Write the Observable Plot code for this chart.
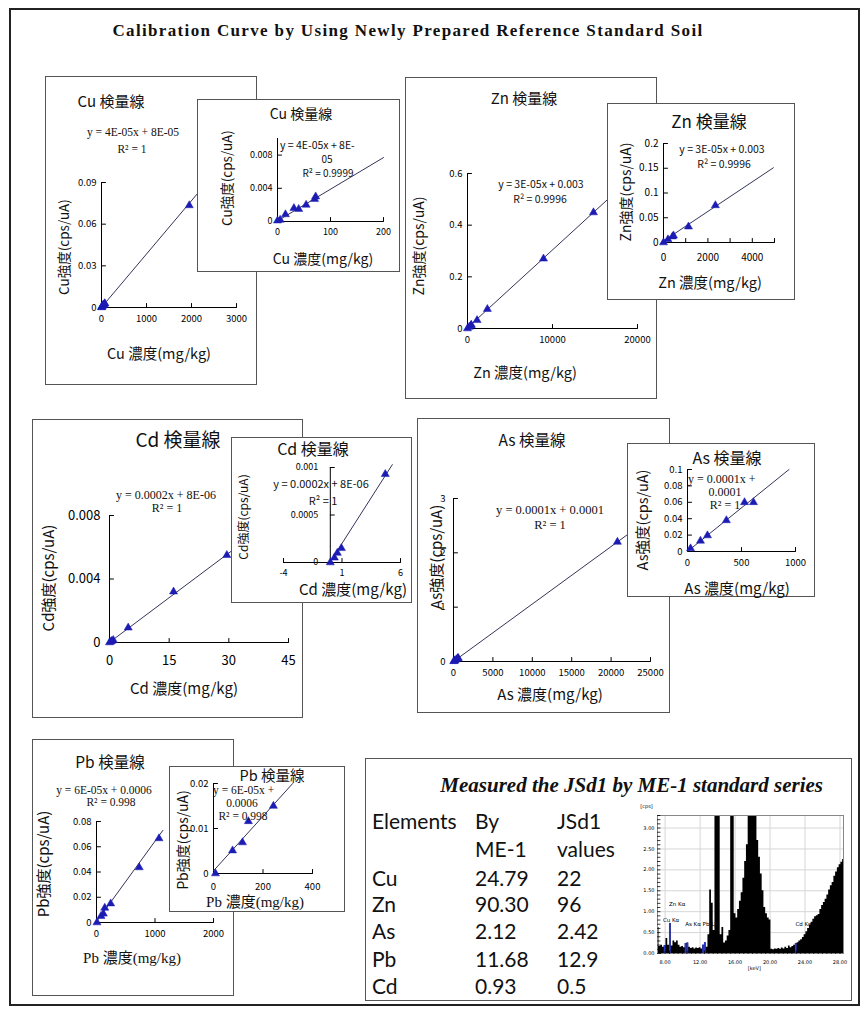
<!DOCTYPE html>
<html><head><meta charset="utf-8">
<script src="https://cdn.jsdelivr.net/npm/d3@7"></script>
<script src="https://cdn.jsdelivr.net/npm/@observablehq/plot@0.6"></script>
<style>
body{margin:0;background:#fff;}
#root{position:relative;width:868px;height:1014px;overflow:hidden;background:#fff;}
.abs{position:absolute;white-space:nowrap;line-height:1;}
.panel{position:absolute;background:#fff;border:1px solid #555;box-sizing:border-box;}
</style></head><body><div id="root"></div><script>
const BLUE = "#1c1cb4";
const LINE = "#34345a";
const SANS = "'Noto Sans CJK JP','DejaVu Sans',sans-serif";
const SERIF = "'Liberation Serif','Noto Sans CJK JP',serif";
const LATO = "Lato,'Open Sans',sans-serif";

// ---------- data ----------
const cuConc = [0, 5, 15, 31, 40, 54, 70, 72, 1950];
const cuInt  = [0.0001, 0.0002, 0.00085, 0.0016, 0.0015, 0.002, 0.0027, 0.003, 0.0735];
const cuFitX = [0, 2340], cuFitY = [0.00008, 0.09];
const cuInsetFitX = [0, 200], cuInsetFitY = [0.00008, 0.0077];

const znConc = [0, 200, 404, 450, 1124, 2337, 8940, 14820];
const znInt  = [0, 0.006, 0.012, 0.014, 0.032, 0.075, 0.27, 0.449];
const znFitX = [0, 17500], znFitY = [0.003, 0.53];
const znInsetFitX = [0, 4950], znInsetFitY = [0.003, 0.151];

const cdConc = [0, 0.35, 0.6, 0.95, 4.7, 16.1, 29.5];
const cdInt  = [0, 0.00005, 0.0001, 0.00015, 0.00093, 0.0032, 0.0055];
const cdFitX = [0, 33], cdFitY = [0.000008, 0.0062];
const cdInsetFitX = [0, 5.3], cdInsetFitY = [0.000008, 0.00103];

const asConc = [28, 120, 185, 360, 528, 611, 20800];
const asInt  = [0.0037, 0.013, 0.0195, 0.038, 0.06, 0.06, 2.2];
const asFitX = [0, 22500], asFitY = [0.0001, 2.38];
const asInsetFitX = [0, 940], asInsetFitY = [0.0001, 0.1];

const pbConc = [8, 77, 117, 141, 242, 730, 1068];
const pbInt  = [0, 0.0051, 0.0069, 0.0116, 0.015, 0.0436, 0.0666];
const pbFitX = [0, 1135], pbFitY = [0.0006, 0.073];
const pbInsetFitX = [0, 320], pbInsetFitY = [0.0006, 0.02];

// tick values
const cuTicksX = [0, 1000, 2000, 3000], cuTicksY = [0, 0.03, 0.06, 0.09];
const cuInsetTicksX = [0, 100, 200], cuInsetTicksY = [0, 0.004, 0.008];
const znTicksX = [0, 10000, 20000], znTicksY = [0, 0.2, 0.4, 0.6];
const znInsetTicksX = [0, 1000, 2000, 3000, 4000, 5000], znInsetLabelsX = [0, 2000, 4000], znInsetTicksY = [0, 0.05, 0.1, 0.15, 0.2];
const cdTicksX = [0, 15, 30, 45], cdTicksY = [0, 0.004, 0.008];
const cdInsetTicksX = [-4, 1, 6], cdInsetTicksY = [0, 0.0005, 0.001];
const asTicksX = [0, 5000, 10000, 15000, 20000, 25000], asTicksY = [0, 1, 2, 3];
const asInsetTicksX = [0, 500, 1000], asInsetTicksY = [0, 0.02, 0.04, 0.06, 0.08, 0.1];
const pbTicksX = [0, 1000, 2000], pbTicksY = [0, 0.02, 0.04, 0.06, 0.08];
const pbInsetTicksX = [0, 200, 400], pbInsetTicksY = [0, 0.01, 0.02];

// table
const tableHeader1 = ["Elements", "By", "JSd1"];
const tableHeader2 = ["", "ME-1", "values"];
const tableElements = ["Cu", "Zn", "As", "Pb", "Cd"];
const byME1 = ["24.79", "90.30", "2.12", "11.68", "0.93"];
const jsd1Values = ["22", "96", "2.42", "12.9", "0.5"];

// spectrum (counts per 0.2 keV starting at 7.2 keV)
const specStart = 7.2, specStep = 0.2;
const specCounts = [
 0.62,0.17,0.20,0.15,0.19,0.36,0.20,0.72,0.18,0.30,
 0.26,0.30,0.20,0.15,0.17,0.14,0.24,0.25,0.15,0.12,
 0.14,0.11,0.13,0.12,0.14,0.11,0.20,0.26,0.15,0.45,
 1.52,1.20,0.55,3.3,3.3,3.3,0.45,0.62,0.25,0.30,
 0.42,0.55,3.3,3.3,0.95,0.85,1.05,1.25,1.45,1.80,
 2.20,2.60,3.3,3.3,3.3,3.3,3.3,2.70,2.30,1.90,
 1.50,1.10,0.95,0.85,0.80,0.10,0.09,0.11,0.10,0.12,
 0.10,0.13,0.11,0.15,0.12,0.18,0.14,0.17,0.20,0.24,
 0.26,0.30,0.33,0.38,0.45,0.52,0.60,0.68,0.75,0.82,
 0.88,0.90,0.93,1.05,1.15,1.22,1.30,1.40,1.52,1.62,
 1.70,1.85,1.95,2.05,2.12,2.18,2.25];
const specBlueEnergies = [8.0, 8.6, 10.4, 10.6, 12.4, 12.6, 23.0];
const specTicksX = [8, 12, 16, 20, 24, 28];
const specTicksY = [0, 0.5, 1, 1.5, 2, 2.5, 3];
const specLabels = [
  {e: 8.45, c: 1.17, t: "Zn Kα"},
  {e: 7.75, c: 0.80, t: "Cu Kα"},
  {e: 10.3, c: 0.71, t: "As Kα Pb Lβ"},
  {e: 22.9, c: 0.70, t: "Cd Kα"}
];

// ---------- helpers ----------
const root = document.getElementById("root");
const tickUp = {draw(ctx, l) { ctx.moveTo(0, 0); ctx.lineTo(0, -l); }};
const tickRight = {draw(ctx, l) { ctx.moveTo(0, 0); ctx.lineTo(l, 0); }};
const zipPts = (xs, ys) => xs.map((x, i) => ({x, y: ys[i]}));
const fmt = d => String(d);

function label(parent, ox, oy, t) {
  const d = document.createElement("div");
  d.className = "abs";
  d.textContent = t.t;
  const tx = t.a === "start" ? "0" : t.a === "end" ? "-100%" : "-50%";
  Object.assign(d.style, {
    left: (t.x - ox) + "px", top: (t.y - oy) + "px",
    fontFamily: t.f || SANS, fontSize: t.s + "px",
    fontWeight: t.w || "normal", fontStyle: t.i ? "italic" : "normal",
    transform: `translate(${tx},-50%)` + (t.r ? ` rotate(${t.r}deg)` : ""),
    letterSpacing: t.ls ? t.ls + "px" : "normal", color: "#111"
  });
  parent.appendChild(d);
}

function panel(p) {
  const [x0, y0, x1, y1] = p.box;
  const div = document.createElement("div");
  div.className = "panel";
  Object.assign(div.style, {left: x0 + "px", top: y0 + "px", width: (x1 - x0) + "px", height: (y1 - y0) + "px"});
  root.appendChild(div);
  const ox = x0 + 1, oy = y0 + 1, W = x1 - x0 - 2, H = y1 - y0 - 2;
  if (p.plot) {
    const q = p.plot;
    const xAt = q.xAxisAt ?? q.xDomain[0];
    const yAt = q.yAxisAt ?? q.yDomain[0];
    const inDom = (v, d) => v >= Math.min(...d) && v <= Math.max(...d);
    const pts = zipPts(q.conc, q.int).filter(d => inDom(d.x, q.xDomain) && inDom(d.y, q.yDomain));
    const fit = zipPts(q.fitX, q.fitY);
    const chart = Plot.plot({
      width: W, height: H,
      marginLeft: q.fx[0] - ox, marginRight: ox + W - q.fx[1],
      marginTop: q.fy[1] - oy, marginBottom: oy + H - q.fy[0],
      x: {domain: q.xDomain, axis: null}, y: {domain: q.yDomain, axis: null},
      style: {fontFamily: SANS, fontSize: q.tickFont + "px", color: "#000", background: "transparent", overflow: "visible"},
      marks: [
        Plot.ruleX([xAt], {x: d => d, y1: () => q.yDomain[0], y2: () => q.yDomain[1], stroke: "#000"}),
        Plot.ruleY([yAt], {y: d => d, x1: () => q.xDomain[0], x2: () => q.xDomain[1], stroke: "#000"}),
        Plot.vector(q.yTicks, {x: () => xAt, y: d => d, length: 4, shape: tickRight, anchor: "start", stroke: "#000", strokeWidth: 1}),
        Plot.vector(q.xTicks, {x: d => d, y: () => yAt, length: 4, shape: tickUp, anchor: "start", stroke: "#000", strokeWidth: 1}),
        Plot.text(q.yLabels || q.yTicks, {x: () => xAt, y: d => d, text: fmt, textAnchor: "end", dx: q.yDx ?? -5, fill: "#000"}),
        Plot.text(q.xLabels || q.xTicks, {x: d => d, y: () => yAt, text: fmt, dy: q.xDy ?? 11, fill: "#000"}),
        Plot.line(fit, {x: "x", y: "y", stroke: LINE, strokeWidth: 1}),
        Plot.dot(pts, {x: "x", y: "y", symbol: "triangle", fill: BLUE, stroke: BLUE, strokeWidth: 0.5, r: 3})
      ]
    });
    chart.style.position = "absolute"; chart.style.left = "0px"; chart.style.top = "0px";
    div.appendChild(chart);
  }
  if (p.extra) p.extra(div, ox, oy);
  (p.texts || []).forEach(t => label(div, ox, oy, t));
  return div;
}

// ---------- outer frame + title ----------
const frame = document.createElement("div");
Object.assign(frame.style, {position: "absolute", left: "9px", top: "8px", width: "851px", height: "998px", border: "2px solid #222", boxSizing: "border-box"});
root.appendChild(frame);
label(root, 0, 0, {x: 408, y: 30, t: "Calibration Curve by Using Newly Prepared Reference Standard Soil", f: SERIF, s: 17, w: "bold", ls: 1.35});

const R = -90;
// ---------- Cu ----------
panel({box: [45, 76, 257, 385],
  plot: {conc: cuConc, int: cuInt, fitX: cuFitX, fitY: cuFitY, xDomain: [0, 3000], yDomain: [0, 0.09],
    fx: [101, 236], fy: [307, 182], xTicks: cuTicksX, yTicks: cuTicksY, tickFont: 9.5},
  texts: [
    {x: 111, y: 100, t: "Cu 検量線", s: 15},
    {x: 133, y: 133, t: "y = 4E-05x  + 8E-05", f: SERIF, s: 11.5},
    {x: 132, y: 150, t: "R² = 1", f: SERIF, s: 11.5},
    {x: 64, y: 247, t: "Cu強度(cps/uA)", s: 13.5, r: R},
    {x: 159, y: 353, t: "Cu 濃度(mg/kg)", s: 14.5}
  ]});
panel({box: [197, 99, 400, 272],
  plot: {conc: cuConc, int: cuInt, fitX: cuInsetFitX, fitY: cuInsetFitY, xDomain: [0, 200], yDomain: [0, 0.01],
    fx: [277, 383], fy: [221, 138], xTicks: cuInsetTicksX, yTicks: cuInsetTicksY, tickFont: 9},
  texts: [
    {x: 301, y: 113, t: "Cu 検量線", s: 14},
    {x: 280, y: 145, t: "y = 4E-05x + 8E-", s: 10.5, a: "start"},
    {x: 327, y: 159, t: "05", s: 10},
    {x: 328, y: 173, t: "R² = 0.9999", s: 10},
    {x: 227, y: 178, t: "Cu強度(cps/uA)", s: 13.5, r: R},
    {x: 323, y: 258, t: "Cu 濃度(mg/kg)", s: 14}
  ]});
// ---------- Zn ----------
panel({box: [405, 77, 657, 399],
  plot: {conc: znConc, int: znInt, fitX: znFitX, fitY: znFitY, xDomain: [0, 20000], yDomain: [0, 0.6],
    fx: [467, 637], fy: [328, 173], xTicks: znTicksX, yTicks: znTicksY, tickFont: 9.5},
  texts: [
    {x: 524, y: 97, t: "Zn 検量線", s: 15},
    {x: 541, y: 184, t: "y = 3E-05x + 0.003", s: 10.5},
    {x: 540, y: 199, t: "R² = 0.9996", s: 10.5},
    {x: 418, y: 246, t: "Zn強度(cps/uA)", s: 14, r: R},
    {x: 525, y: 372, t: "Zn 濃度(mg/kg)", s: 14.5}
  ]});
panel({box: [607, 103, 795, 300],
  plot: {conc: znConc, int: znInt, fitX: znInsetFitX, fitY: znInsetFitY, xDomain: [0, 5000], yDomain: [0, 0.2],
    fx: [663, 774], fy: [242, 143], xTicks: znInsetTicksX, xLabels: znInsetLabelsX, yTicks: znInsetTicksY, tickFont: 10, xDy: 15},
  texts: [
    {x: 709, y: 120, t: "Zn 検量線", s: 17},
    {x: 722, y: 149, t: "y = 3E-05x + 0.003", s: 10.5},
    {x: 724, y: 164, t: "R² = 0.9996", s: 10.5},
    {x: 625, y: 192, t: "Zn強度(cps/uA)", s: 14, r: R},
    {x: 710, y: 282, t: "Zn 濃度(mg/kg)", s: 14.5}
  ]});
// ---------- Cd ----------
panel({box: [32, 419, 303, 718],
  plot: {conc: cdConc, int: cdInt, fitX: cdFitX, fitY: cdFitY, xDomain: [0, 45], yDomain: [0, 0.008],
    fx: [109, 288], fy: [642, 515], xTicks: cdTicksX, yTicks: cdTicksY, tickFont: 13, yDx: -9, xDy: 18},
  texts: [
    {x: 178, y: 438, t: "Cd 検量線", s: 19},
    {x: 166, y: 495, t: "y = 0.0002x + 8E-06", f: SERIF, s: 12},
    {x: 167, y: 508, t: "R² = 1", f: SERIF, s: 12},
    {x: 47, y: 578, t: "Cd強度(cps/uA)", s: 15, r: R},
    {x: 184, y: 687, t: "Cd 濃度(mg/kg)", s: 15}
  ]});
panel({box: [231, 437, 412, 603],
  plot: {conc: cdConc, int: cdInt, fitX: cdInsetFitX, fitY: cdInsetFitY, xDomain: [-4, 6], yDomain: [0, 0.001],
    xAxisAt: 0, yAxisAt: 0,
    fx: [283, 400], fy: [562, 467], xTicks: cdInsetTicksX, yTicks: cdInsetTicksY, tickFont: 9, yDx: -12, xDy: 11},
  texts: [
    {x: 313, y: 448, t: "Cd 検量線", s: 16},
    {x: 321, y: 483, t: "y = 0.0002x + 8E-06", s: 11},
    {x: 323, y: 500, t: "R² = 1", s: 11},
    {x: 243, y: 517, t: "Cd強度(cps/uA)", s: 12, r: R},
    {x: 353, y: 588, t: "Cd 濃度(mg/kg)", s: 15}
  ]});
// ---------- As ----------
panel({box: [417, 418, 670, 713],
  plot: {conc: asConc, int: asInt, fitX: asFitX, fitY: asFitY, xDomain: [0, 25000], yDomain: [0, 3],
    fx: [453, 650], fy: [661, 498], xTicks: asTicksX, yTicks: asTicksY, tickFont: 9.5, yDx: -8},
  texts: [
    {x: 532, y: 440, t: "As 検量線", s: 15.5},
    {x: 550, y: 510, t: "y = 0.0001x + 0.0001", f: SERIF, s: 12.5},
    {x: 550, y: 525, t: "R² = 1", f: SERIF, s: 12.5},
    {x: 435, y: 557, t: "As強度(cps/uA)", s: 15, r: R},
    {x: 550, y: 693, t: "As 濃度(mg/kg)", s: 15}
  ]});
panel({box: [627, 443, 815, 597],
  plot: {conc: asConc, int: asInt, fitX: asInsetFitX, fitY: asInsetFitY, xDomain: [0, 1000], yDomain: [0, 0.1],
    fx: [687, 795], fy: [551, 469], xTicks: asInsetTicksX, yTicks: asInsetTicksY, tickFont: 9.5},
  texts: [
    {x: 727, y: 457, t: "As 検量線", s: 16},
    {x: 688, y: 479, t: "y = 0.0001x +", f: SERIF, s: 12, a: "start"},
    {x: 725, y: 492, t: "0.0001", f: SERIF, s: 12},
    {x: 725, y: 505, t: "R² = 1", f: SERIF, s: 12},
    {x: 642, y: 520, t: "As強度(cps/uA)", s: 14.5, r: R},
    {x: 737, y: 587, t: "As 濃度(mg/kg)", s: 15}
  ]});
// ---------- Pb ----------
panel({box: [32, 739, 234, 996],
  plot: {conc: pbConc, int: pbInt, fitX: pbFitX, fitY: pbFitY, xDomain: [0, 2000], yDomain: [0, 0.08],
    fx: [96, 213], fy: [922, 821], xTicks: pbTicksX, yTicks: pbTicksY, tickFont: 9.5},
  texts: [
    {x: 110, y: 762, t: "Pb 検量線", s: 15.5},
    {x: 104, y: 791, t: "y = 6E-05x + 0.0006", f: SERIF, s: 11.5},
    {x: 111, y: 803, t: "R² = 0.998", f: SERIF, s: 11.5},
    {x: 42, y: 864, t: "Pb強度(cps/uA)", s: 15, r: R},
    {x: 132, y: 958, t: "Pb 濃度(mg/kg)", f: SERIF, s: 15}
  ]});
panel({box: [169, 766, 345, 912],
  plot: {conc: pbConc, int: pbInt, fitX: pbInsetFitX, fitY: pbInsetFitY, xDomain: [0, 400], yDomain: [0, 0.02],
    fx: [213, 312], fy: [873, 783], xTicks: pbInsetTicksX, yTicks: pbInsetTicksY, tickFont: 9.5, xDy: 13},
  texts: [
    {x: 272, y: 775, t: "Pb 検量線", s: 14.5},
    {x: 213, y: 791, t: "y = 6E-05x +", f: SERIF, s: 11.5, a: "start"},
    {x: 242, y: 804, t: "0.0006", f: SERIF, s: 11.5},
    {x: 243, y: 817, t: "R² = 0.998", f: SERIF, s: 11.5},
    {x: 182, y: 840, t: "Pb強度(cps/uA)", s: 14, r: R},
    {x: 255, y: 902, t: "Pb 濃度(mg/kg)", f: SERIF, s: 15}
  ]});

// ---------- table + spectrum ----------
const spectrum = specCounts.map((c, i) => ({e: +(specStart + i * specStep).toFixed(2), c}));
const specBlue = spectrum.filter(d => specBlueEnergies.includes(d.e));
const specMinorX = d3.range(7.5, 28.3, 0.5);
const specMinorY = d3.range(0, 3.31, 0.1);

const rowsY = [820, 848, 877, 903, 930, 958, 985];
const colX = [372, 475, 557];
const tableTexts = [{x: 823, y: 785, t: "Measured the JSd1 by ME-1  standard series", f: SERIF, s: 21, w: "bold", i: true, a: "end"}];
[tableHeader1, tableHeader2].forEach((row, r) => row.forEach((t, c) => { if (t) tableTexts.push({x: colX[c], y: rowsY[r], t, f: LATO, s: 21, a: "start"}); }));
tableElements.forEach((el, r) => {
  [el, byME1[r], jsd1Values[r]].forEach((t, c) => tableTexts.push({x: colX[c], y: rowsY[r + 2], t, f: LATO, s: 21, a: "start"}));
});

panel({box: [365, 758, 852, 1001], texts: tableTexts,
  extra: (div, ox, oy) => {
    const sx0 = 630, sy0 = 795, sw = 220, sh = 180;
    const spec = Plot.plot({
      width: sw, height: sh, marginLeft: 657 - sx0, marginRight: sx0 + sw - 843, marginTop: 815 - sy0, marginBottom: sy0 + sh - 953,
      x: {domain: [7.13, 28.4], axis: null}, y: {domain: [0, 3.3], axis: null},
      style: {fontFamily: "'DejaVu Sans',sans-serif", fontSize: "5px", background: "transparent", overflow: "visible"},
      marks: [
        Plot.frame({fill: "#fff"}),
        Plot.ruleX(specTicksX, {stroke: "#d6d6d6"}),
        Plot.ruleY(specTicksY, {stroke: "#d6d6d6"}),
        Plot.areaY(spectrum, {x: "e", y: "c", fill: "#000", curve: "step"}),
        Plot.rectY(specBlue, {x1: d => d.e - specStep / 2, x2: d => d.e + specStep / 2, y: "c", fill: "#2a36c8"}),
        Plot.frame({stroke: "#888"}),
        Plot.vector(specMinorX, {x: d => d, y: () => 0, length: 2.5, shape: tickUp, anchor: "start", stroke: "#000", strokeWidth: 0.8}),
        Plot.vector(specMinorY, {x: () => 7.13, y: d => d, length: 2.5, shape: tickRight, anchor: "start", stroke: "#000", strokeWidth: 0.8}),
        Plot.text(specTicksY, {x: () => 7.13, y: d => d, text: d => d.toFixed(2), textAnchor: "end", dx: -3, fill: "#000"}),
        Plot.text(specTicksX, {x: d => d, y: () => 0, text: d => d.toFixed(2), dy: 9, fill: "#000"}),
        Plot.text(["[keV]"], {x: () => 18.2, y: () => 0, dy: 15, text: d => d, fill: "#000"}),
        Plot.text(["[cps]"], {x: () => 7.13, y: () => 3.3, dx: -11, dy: -9, text: d => d, fill: "#000"}),
        Plot.text(specLabels, {x: "e", y: "c", text: "t", textAnchor: "start", fontSize: 5.5, fill: "#000"})
      ]
    });
    Object.assign(spec.style, {position: "absolute", left: (sx0 - ox) + "px", top: (sy0 - oy) + "px"});
    div.appendChild(spec);
  }});
</script></body></html>
